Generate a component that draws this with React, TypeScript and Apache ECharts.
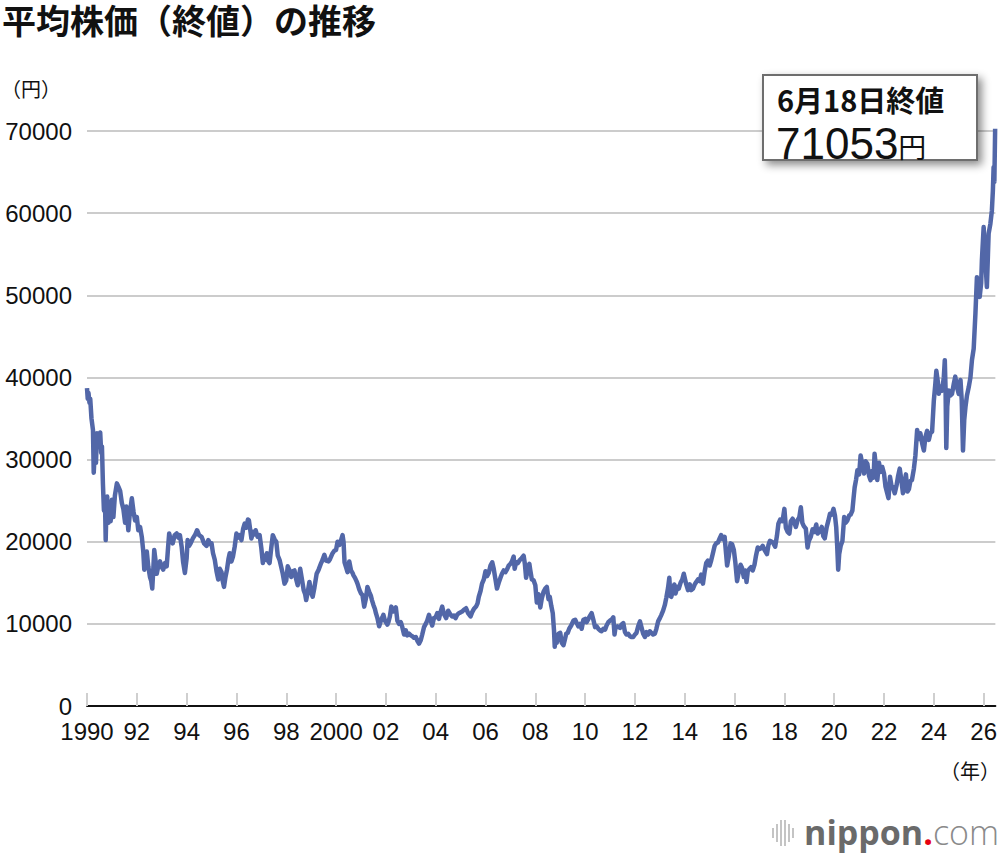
import React, { useEffect, useRef } from "react";
import * as echarts from "echarts";

// Time position (decimal year) and closing price (yen)
const yearPos: number[] = [
  1990.00, 1990.03, 1990.06, 1990.10, 1990.13, 1990.18, 1990.24, 1990.27, 1990.31, 1990.36,
  1990.40, 1990.46, 1990.53, 1990.57, 1990.60, 1990.64, 1990.68, 1990.72, 1990.75, 1990.78,
  1990.81, 1990.86, 1990.90, 1990.95, 1991.00, 1991.06, 1991.12, 1991.20, 1991.26, 1991.33,
  1991.40, 1991.46, 1991.53, 1991.58, 1991.66, 1991.72, 1991.80, 1991.87, 1991.93, 1992.00,
  1992.06, 1992.13, 1992.20, 1992.26, 1992.30, 1992.36, 1992.40, 1992.46, 1992.53, 1992.58,
  1992.62, 1992.66, 1992.70, 1992.76, 1992.80, 1992.86, 1992.93, 1993.00, 1993.06, 1993.13,
  1993.20, 1993.26, 1993.30, 1993.36, 1993.44, 1993.52, 1993.60, 1993.67, 1993.73, 1993.80,
  1993.86, 1993.93, 1994.00, 1994.04, 1994.10, 1994.16, 1994.25, 1994.35, 1994.42, 1994.50,
  1994.60, 1994.70, 1994.80, 1994.87, 1994.95, 1995.00, 1995.06, 1995.13, 1995.20, 1995.27,
  1995.33, 1995.40, 1995.45, 1995.50, 1995.56, 1995.62, 1995.68, 1995.73, 1995.80, 1995.86,
  1995.93, 1996.00, 1996.06, 1996.13, 1996.20, 1996.27, 1996.33, 1996.40, 1996.46, 1996.50,
  1996.56, 1996.60, 1996.67, 1996.73, 1996.77, 1996.85, 1996.93, 1997.00, 1997.06, 1997.12,
  1997.18, 1997.22, 1997.28, 1997.33, 1997.40, 1997.46, 1997.53, 1997.60, 1997.66, 1997.73,
  1997.80, 1997.86, 1997.93, 1998.00, 1998.06, 1998.13, 1998.20, 1998.26, 1998.33, 1998.40,
  1998.46, 1998.52, 1998.56, 1998.62, 1998.70, 1998.76, 1998.80, 1998.86, 1998.93, 1999.00,
  1999.06, 1999.13, 1999.22, 1999.30, 1999.40, 1999.46, 1999.53, 1999.60, 1999.70, 1999.76,
  1999.86, 1999.93, 2000.00, 2000.06, 2000.13, 2000.20, 2000.26, 2000.30, 2000.34, 2000.40,
  2000.46, 2000.53, 2000.60, 2000.66, 2000.70, 2000.76, 2000.82, 2000.86, 2000.93, 2001.00,
  2001.06, 2001.13, 2001.20, 2001.26, 2001.33, 2001.40, 2001.44, 2001.50, 2001.56, 2001.60,
  2001.66, 2001.73, 2001.80, 2001.86, 2001.90, 2001.96, 2002.06, 2002.10, 2002.16, 2002.22,
  2002.30, 2002.36, 2002.40, 2002.46, 2002.53, 2002.60, 2002.66, 2002.73, 2002.80, 2002.86,
  2002.93, 2003.00, 2003.06, 2003.13, 2003.20, 2003.27, 2003.33, 2003.40, 2003.46, 2003.53,
  2003.60, 2003.66, 2003.73, 2003.80, 2003.86, 2003.93, 2004.00, 2004.06, 2004.13, 2004.20,
  2004.26, 2004.33, 2004.42, 2004.50, 2004.60, 2004.66, 2004.73, 2004.80, 2004.86, 2004.93,
  2005.00, 2005.06, 2005.13, 2005.22, 2005.30, 2005.40, 2005.46, 2005.53, 2005.62, 2005.68,
  2005.73, 2005.80, 2005.86, 2005.93, 2006.00, 2006.06, 2006.13, 2006.20, 2006.27, 2006.33,
  2006.40, 2006.46, 2006.53, 2006.60, 2006.66, 2006.73, 2006.80, 2006.86, 2006.93, 2007.00,
  2007.06, 2007.13, 2007.17, 2007.23, 2007.30, 2007.36, 2007.45, 2007.53, 2007.58, 2007.63,
  2007.70, 2007.76, 2007.80, 2007.86, 2007.93, 2008.00, 2008.06, 2008.13, 2008.20, 2008.26,
  2008.33, 2008.40, 2008.46, 2008.53, 2008.58, 2008.64, 2008.70, 2008.75, 2008.78, 2008.82,
  2008.86, 2008.93, 2009.00, 2009.06, 2009.13, 2009.18, 2009.24, 2009.30, 2009.36, 2009.44,
  2009.53, 2009.60, 2009.66, 2009.73, 2009.80, 2009.86, 2009.93, 2010.00, 2010.06, 2010.13,
  2010.20, 2010.26, 2010.33, 2010.40, 2010.46, 2010.53, 2010.60, 2010.66, 2010.73, 2010.80,
  2010.86, 2010.93, 2011.00, 2011.06, 2011.13, 2011.18, 2011.22, 2011.30, 2011.40, 2011.46,
  2011.53, 2011.60, 2011.66, 2011.73, 2011.80, 2011.86, 2011.93, 2012.00, 2012.06, 2012.13,
  2012.20, 2012.26, 2012.33, 2012.40, 2012.46, 2012.53, 2012.60, 2012.66, 2012.73, 2012.80,
  2012.86, 2012.93, 2013.00, 2013.06, 2013.13, 2013.20, 2013.26, 2013.33, 2013.38, 2013.42,
  2013.46, 2013.53, 2013.58, 2013.63, 2013.70, 2013.76, 2013.83, 2013.90, 2013.96, 2014.06,
  2014.13, 2014.20, 2014.26, 2014.33, 2014.40, 2014.46, 2014.53, 2014.60, 2014.66, 2014.73,
  2014.80, 2014.86, 2014.93, 2015.00, 2015.06, 2015.13, 2015.20, 2015.26, 2015.33, 2015.40,
  2015.46, 2015.53, 2015.60, 2015.66, 2015.70, 2015.76, 2015.84, 2015.90, 2015.97, 2016.03,
  2016.10, 2016.16, 2016.24, 2016.30, 2016.37, 2016.43, 2016.48, 2016.53, 2016.60, 2016.66,
  2016.73, 2016.80, 2016.86, 2016.93, 2017.00, 2017.06, 2017.13, 2017.20, 2017.30, 2017.36,
  2017.42, 2017.50, 2017.56, 2017.63, 2017.70, 2017.76, 2017.83, 2017.90, 2017.95, 2018.00,
  2018.06, 2018.13, 2018.20, 2018.26, 2018.33, 2018.40, 2018.46, 2018.53, 2018.60, 2018.66,
  2018.72, 2018.78, 2018.86, 2018.93, 2018.98, 2019.06, 2019.13, 2019.20, 2019.28, 2019.33,
  2019.40, 2019.50, 2019.56, 2019.62, 2019.70, 2019.76, 2019.83, 2019.90, 2019.97, 2020.03,
  2020.08, 2020.12, 2020.16, 2020.20, 2020.26, 2020.33, 2020.40, 2020.46, 2020.53, 2020.60,
  2020.66, 2020.73, 2020.78, 2020.82, 2020.88, 2020.93, 2021.00, 2021.06, 2021.13, 2021.20,
  2021.26, 2021.33, 2021.40, 2021.46, 2021.52, 2021.58, 2021.62, 2021.68, 2021.73, 2021.80,
  2021.86, 2021.93, 2022.00, 2022.06, 2022.12, 2022.18, 2022.24, 2022.30, 2022.36, 2022.43,
  2022.50, 2022.56, 2022.63, 2022.70, 2022.76, 2022.82, 2022.88, 2022.94, 2023.00, 2023.06,
  2023.12, 2023.20, 2023.26, 2023.33, 2023.40, 2023.46, 2023.53, 2023.60, 2023.66, 2023.73,
  2023.80, 2023.86, 2023.93, 2024.00, 2024.06, 2024.10, 2024.16, 2024.20, 2024.26, 2024.33,
  2024.40, 2024.44, 2024.47, 2024.50, 2024.54, 2024.60, 2024.66, 2024.73, 2024.80, 2024.86,
  2024.93, 2025.00, 2025.07, 2025.12, 2025.17, 2025.22, 2025.27, 2025.33, 2025.40, 2025.47,
  2025.53, 2025.60, 2025.67, 2025.73, 2025.78, 2025.84, 2025.90, 2025.93, 2026.00, 2026.06,
  2026.13, 2026.20, 2026.27, 2026.33, 2026.37, 2026.40, 2026.43, 2026.465,
];

const closeYen: number[] = [
  38700, 37400, 38100, 36900, 37400, 35000, 33600, 28400, 30800, 29600,
  33200, 32100, 33300, 30800, 31600, 27000, 23800, 25400, 20200, 24000,
  25500, 22300, 23800, 22500, 25100, 23000, 25600, 27100, 26700, 26200,
  24700, 24000, 22300, 24300, 21400, 23500, 25300, 23600, 22600, 23000,
  21400, 21800, 20600, 18800, 16600, 17800, 18800, 17000, 15700, 15200,
  14300, 16500, 19000, 17500, 16100, 17000, 17600, 16900, 16600, 17400,
  17000, 19500, 21000, 20200, 19800, 20800, 21000, 20500, 20800, 19400,
  17500, 16200, 18000, 20200, 19500, 19800, 20400, 20900, 21400, 20800,
  20600, 19800, 19500, 20200, 19700, 19800, 18600, 17800, 16400, 15400,
  16700, 16300, 15200, 14500, 15700, 16600, 17900, 18600, 17600, 18200,
  19400, 21000, 20500, 20800, 20200, 21600, 22200, 21700, 22700, 22600,
  21300, 20400, 21200, 20900, 21400, 20600, 20800, 19200, 17400, 18300,
  17800, 18600, 17600, 17400, 19300, 20800, 20300, 20000, 18300, 17800,
  16900, 16100, 14900, 15300, 17000, 16500, 15700, 16400, 16500, 15400,
  14700, 16000, 16700, 15600, 14100, 13600, 12900, 13800, 15100, 13800,
  13300, 14400, 16100, 16600, 17400, 17800, 18400, 17700, 17600, 17900,
  18600, 18900, 19000, 20000, 19600, 20200, 20800, 20000, 17500, 16900,
  16300, 17600, 16500, 16200, 15900, 15600, 15200, 14900, 14200, 13700,
  13500, 12100, 13100, 14500, 13900, 13400, 12900, 12300, 11800, 11300,
  10700, 9700, 10400, 10800, 11100, 10400, 9900, 10200, 10900, 12100,
  11500, 11600, 12000, 10400, 10000, 10200, 9600, 8700, 9200, 8600,
  8800, 8600, 8500, 8300, 8400, 7900, 7600, 8000, 8700, 9600,
  10000, 10400, 11100, 10400, 9800, 10700, 10800, 11300, 10600, 11500,
  12100, 11200, 10700, 11600, 11100, 10900, 11000, 10700, 11100, 11300,
  11400, 11500, 11700, 11900, 11300, 10900, 11400, 11800, 12100, 12500,
  13300, 14000, 14900, 15400, 16400, 15800, 16200, 17100, 17500, 16700,
  15400, 14300, 15000, 15600, 16100, 16500, 16300, 16600, 17100, 17300,
  17600, 18200, 16700, 17500, 17400, 17700, 18000, 18300, 17300, 15600,
  16800, 17300, 16500, 15400, 15300, 14700, 12600, 13600, 12000, 13100,
  13900, 14300, 14500, 13000, 13300, 12200, 11300, 9200, 7200, 8500,
  7700, 8800, 8900, 7700, 7400, 8000, 8800, 8900, 9400, 9800,
  10400, 10500, 10100, 9700, 10000, 9400, 10500, 10600, 10200, 10600,
  11000, 11300, 10500, 9600, 9700, 9400, 9200, 9100, 9400, 9300,
  9800, 10200, 10400, 10500, 10800, 8700, 9600, 9700, 9500, 9900,
  10100, 9000, 8700, 8800, 8500, 8400, 8400, 8700, 8900, 9700,
  10300, 9600, 8800, 8400, 9000, 8700, 9100, 8900, 8700, 8800,
  9400, 10300, 10700, 11100, 11600, 12300, 13200, 14400, 15600, 13400,
  13300, 14100, 14800, 13700, 14500, 14300, 15000, 15400, 16100, 14800,
  14100, 14800, 14100, 14300, 14800, 15100, 15400, 15200, 16000, 14900,
  16400, 17400, 17700, 17100, 17700, 18600, 19500, 19800, 19900, 20400,
  20800, 20300, 20600, 18500, 17100, 18100, 19800, 19700, 19000, 17500,
  15200, 16200, 17200, 16800, 15700, 16500, 15100, 16400, 16700, 16900,
  16500, 17200, 18300, 19300, 19100, 19200, 19500, 19000, 18500, 19600,
  20100, 20000, 19800, 19400, 20700, 22200, 22700, 22500, 23000, 24000,
  21700, 21200, 21000, 22500, 22800, 22300, 21800, 22600, 23000, 24200,
  22300, 21900, 21600, 19300, 20100, 20600, 21500, 21200, 22100, 21000,
  21200, 21800, 20700, 20400, 21800, 22500, 23400, 23300, 24000, 23200,
  21800, 19500, 16600, 18500, 19500, 20100, 23000, 22300, 22600, 23200,
  23300, 23800, 25400, 26600, 27600, 28700, 28200, 30500, 29400, 28300,
  29800, 29500, 28000, 27500, 28600, 27800, 30700, 29000, 27500, 29600,
  28500, 29100, 28300, 26700, 26000, 25300, 27900, 26800, 26600, 25900,
  26800, 27900, 28900, 27400, 25900, 27100, 28200, 26100, 26400, 27400,
  27500, 28900, 30500, 33600, 32500, 33200, 32000, 31100, 32700, 33500,
  32400, 33200, 33400, 37200, 39200, 40800, 39500, 38000, 38900, 38400,
  40000, 42100, 38600, 31400, 36500, 38400, 37800, 38000, 39200, 40100,
  38800, 38000, 39700, 37200, 31100, 34800, 36400, 37800, 38800, 40000,
  42100, 43500, 47800, 52200, 50500, 49800, 51500, 54300, 58300, 54700,
  51000, 57500, 58700, 60300, 62700, 65600, 63800, 71053,
];

const yTicks: number[] = [0, 10000, 20000, 30000, 40000, 50000, 60000, 70000];
const xTickYears: number[] = [
  1990, 1992, 1994, 1996, 1998, 2000, 2002, 2004, 2006, 2008, 2010, 2012, 2014, 2016,
  2018, 2020, 2022, 2024, 2026,
];

const titleText = "平均株価（終値）の推移";
const yUnit = "（円）";
const xUnit = "（年）";
const noteDate = "6月18日終値";
const noteValue = "71053";
const noteYen = "円";

const JP = '"Noto Sans CJK JP", "Noto Sans", sans-serif';
const NUM = '"Liberation Sans", Arial, Helvetica, sans-serif';

export default function App() {
  const ref = useRef<HTMLDivElement>(null);

  useEffect(() => {
    if (!ref.current) return;
    const chart = echarts.init(ref.current, undefined, { renderer: "svg" });
    const data = yearPos.map((y, i) => [y, closeYen[i]]);

    const logoBars = [
      { x: 772, h: 10 },
      { x: 776, h: 18 },
      { x: 780, h: 26 },
      { x: 784, h: 26 },
      { x: 788, h: 18 },
      { x: 792, h: 10 },
    ];

    chart.setOption({
      animation: false,
      backgroundColor: "#ffffff",
      grid: { left: 87, right: 1, top: 131, bottom: 150, containLabel: false },
      xAxis: {
        type: "value",
        min: 1990,
        max: 2026.47,
        axisLine: { show: true, lineStyle: { color: "#111", width: 2 } },
        axisTick: {
          show: true,
          inside: true,
          length: 13,
          customValues: xTickYears,
          lineStyle: { color: "#cfcfcf", width: 2 },
        },
        axisLabel: {
          show: true,
          customValues: xTickYears,
          fontSize: 24,
          fontFamily: NUM,
          color: "#111",
          margin: 13,
          formatter: (v: number) => {
            const y = Math.round(v);
            if (y === 1990 || y === 2000) return String(y);
            return String(y % 100).padStart(2, "0");
          },
        },
        splitLine: { show: false },
      },
      yAxis: {
        type: "value",
        min: 0,
        max: 70000,
        interval: 10000,
        axisLine: { show: false },
        axisTick: { show: false },
        axisLabel: {
          fontSize: 24,
          fontFamily: NUM,
          color: "#111",
          margin: 15,
          formatter: (v: number) => (yTicks.includes(v) ? String(v) : ""),
        },
        splitLine: { show: true, lineStyle: { color: "#cccccc", width: 2 } },
      },
      series: [
        {
          type: "line",
          data,
          showSymbol: false,
          symbol: "none",
          smooth: false,
          lineStyle: { color: "#5267a8", width: 4.5, join: "round" },
          z: 3,
        },
      ],
      graphic: [
        {
          type: "text",
          x: 2,
          y: 2,
          style: {
            text: titleText,
            font: `bold 34px ${JP}`,
            fill: "#111",
            verticalAlign: "top",
          },
        },
        {
          type: "text",
          x: 1,
          y: 88,
          style: {
            text: yUnit,
            font: `20px ${JP}`,
            fill: "#111",
            verticalAlign: "middle",
          },
        },
        {
          type: "text",
          x: 1000,
          y: 770,
          style: {
            text: xUnit,
            font: `20px ${JP}`,
            fill: "#111",
            align: "right",
            verticalAlign: "middle",
          },
        },
        {
          type: "rect",
          shape: { x: 763, y: 75, width: 214, height: 85 },
          style: {
            fill: "#ffffff",
            stroke: "#6e6e6e",
            lineWidth: 2,
            shadowBlur: 8,
            shadowOffsetX: 4,
            shadowOffsetY: 4,
            shadowColor: "rgba(0,0,0,0.45)",
          },
          z: 10,
        },
        {
          type: "text",
          x: 777,
          y: 99,
          z: 11,
          style: {
            text: noteDate,
            font: `bold 29px ${JP}`,
            fill: "#111",
            verticalAlign: "middle",
          },
        },
        {
          type: "text",
          x: 776,
          y: 143,
          z: 11,
          style: {
            text: `{a|${noteValue}}{b|${noteYen}}`,
            verticalAlign: "middle",
            rich: {
              a: { fontSize: 44, fontFamily: NUM, fill: "#111", color: "#111", lineHeight: 32 },
              b: { fontSize: 28, fontFamily: JP, fill: "#111", color: "#111", lineHeight: 32, padding: [6, 0, 0, 0] },
            },
          },
        },
        ...logoBars.map((b) => ({
          type: "rect",
          shape: { x: b.x, y: 833 - b.h / 2, width: 2, height: b.h },
          style: { fill: "#c4c4c4" },
        })),
        {
          type: "text",
          x: 999,
          y: 832,
          style: {
            text: "{n|nippon}{d|.}{c|com}",
            align: "right",
            verticalAlign: "middle",
            rich: {
              n: { fontSize: 34, fontWeight: "bold", fontFamily: '"Open Sans", sans-serif', color: "#6a6a6a", fill: "#6a6a6a" },
              d: { fontSize: 34, fontWeight: "bold", fontFamily: '"Open Sans", sans-serif', color: "#e60012", fill: "#e60012" },
              c: { fontSize: 34, fontWeight: 300, fontFamily: '"Open Sans", sans-serif', color: "#8a8a8a", fill: "#8a8a8a" },
            },
          },
        },
      ],
    });

    return () => chart.dispose();
  }, []);

  return (
    <div
      ref={ref}
      style={{ position: "fixed", left: 0, top: 0, width: 1000, height: 856, background: "#fff" }}
    />
  );
}
